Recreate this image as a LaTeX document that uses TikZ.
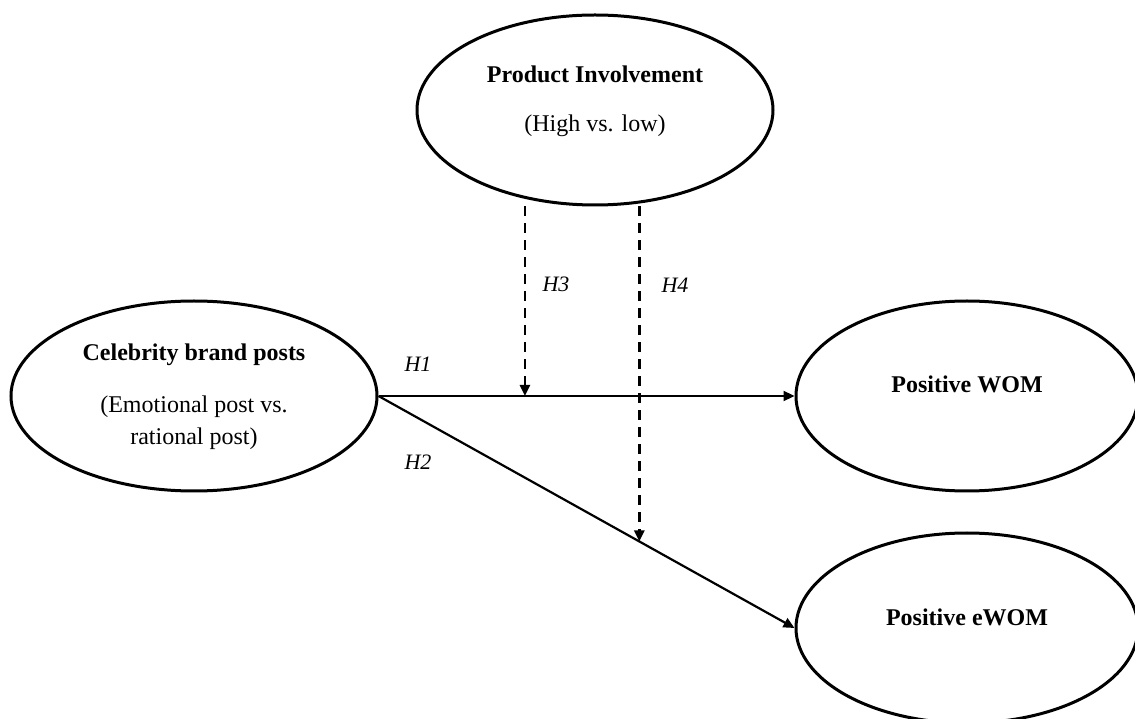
\documentclass[tikz,border=0pt]{standalone}
\usepackage{fontspec}
\setmainfont{Liberation Serif}
\usetikzlibrary{shapes.geometric,arrows.meta}

\begin{document}
\begin{tikzpicture}[x=1pt,y=1pt,
        bubble/.style={ellipse, draw, line width=3pt, minimum width=#1, minimum height=190pt, inner sep=0pt},
        title/.style={font=\fontsize{24}{28}\selectfont\bfseries},
        sub/.style={font=\fontsize{24}{32}\selectfont, align=center},
        hyp/.style={font=\fontsize{22}{26}\selectfont\itshape},
        effect/.style={line width=2.2pt, -{Triangle[length=11pt,width=10pt]}},
        moderator/.style={line width=2.6pt, dash pattern=on 10pt off 7pt, -{Triangle[length=11pt,width=10pt]}}]
    \useasboundingbox (0,0) rectangle (1135,718);

    % constructs
    \node[bubble=356pt] (inv) at (595,608) {};
    \node[bubble=366pt] (cel) at (194,322) {};
    \node[bubble=342pt] (wom) at (967,322) {};
    \node[bubble=342pt] (ewom) at (967,90) {};

    \node[title] (invT) at (595,644) {Product Involvement};
    \node[sub] (invS) at (595,592) {(High vs. low)};
    \node[title] (celT) at (194,363) {Celebrity brand posts};
    \node[sub] (celS) at (194,295) {(Emotional post vs.\\ rational post)};
    \node[title] (womT) at (967,334) {Positive WOM};
    \node[title] (ewomT) at (967,101) {Positive eWOM};

    % direct effects
    \draw[effect] (cel.east) -- coordinate[pos=0.352] (m1) (wom.west);
    \draw[effect] (cel.east) -- coordinate[pos=0.627] (m2) (ewom.west);

    % moderation
    \draw[moderator] (inv.south -| m1) -- (m1);
    \draw[moderator] (inv.south -| m2) -- (m2);

    \node[hyp] (h1) at (418,354) {H1};
    \node[hyp] (h2) at (418,256) {H2};
    \node[hyp] (h3) at (556,434) {H3};
    \node[hyp] (h4) at (675,433) {H4};
\end{tikzpicture}
\end{document}
